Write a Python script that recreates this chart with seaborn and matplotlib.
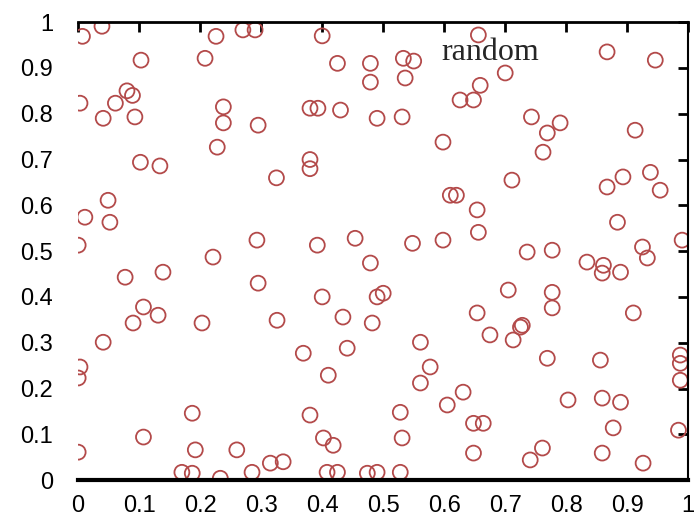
import matplotlib
matplotlib.use("Agg")
import matplotlib.pyplot as plt
import seaborn as sns
import pandas as pd

# ============================================================
# DATA
# ============================================================

x_vals = [
    0.007, 0.039, 0.103, 0.226, 0.208, 0.270, 0.290,
    0.400, 0.425, 0.479, 0.479, 0.533, 0.550, 0.536,
    0.867, 0.946, 0.656, 0.700, 0.659, 0.626, 0.648,
    0.598, 0.380, 0.393, 0.430, 0.490, 0.531, 0.380, 0.380,
    0.325, 0.003, 0.041, 0.061, 0.080, 0.089, 0.093,
    0.238, 0.238, 0.228, 0.295, 0.102, 0.134,
    0.049, 0.011, 0.052, 0.000, 0.293, 0.221, 0.077,
    0.139, 0.295, 0.107, 0.131, 0.090, 0.203, 0.326,
    0.610, 0.620, 0.654, 0.392, 0.454, 0.548, 0.598, 0.656,
    0.479, 0.400, 0.500, 0.490, 0.434, 0.482, 0.654,
    0.711, 0.867, 0.893, 0.938, 0.954, 0.884, 0.990,
    0.736, 0.777, 0.834, 0.861, 0.859, 0.889, 0.925, 0.933,
    0.705, 0.777, 0.777, 0.910, 0.728,
    0.041, 0.003, 0.000, 0.000, 0.107, 0.187, 0.192, 0.260,
    0.170, 0.187, 0.233, 0.285, 0.315, 0.336,
    0.369, 0.441, 0.410, 0.561, 0.577, 0.561, 0.605, 0.631,
    0.380, 0.528, 0.402, 0.418, 0.531, 0.648, 0.648, 0.664,
    0.408, 0.425, 0.474, 0.490, 0.528,
    0.713, 0.725, 0.675, 0.769, 0.856, 0.987, 0.987, 0.987,
    0.803, 0.859, 0.889, 0.877, 0.984, 0.859, 0.761, 0.741, 0.926,
    0.743, 0.790, 0.769, 0.762, 0.913,
]

y_vals = [
    0.969, 0.991, 0.917, 0.969, 0.921, 0.983, 0.983,
    0.970, 0.910, 0.910, 0.869, 0.921, 0.915, 0.878,
    0.935, 0.917, 0.972, 0.889, 0.862, 0.830, 0.830,
    0.738, 0.812, 0.812, 0.808, 0.790, 0.793, 0.700, 0.680,
    0.660, 0.823, 0.790, 0.823, 0.850, 0.840, 0.793,
    0.815, 0.780, 0.727, 0.775, 0.694, 0.686,
    0.611, 0.574, 0.563, 0.513, 0.524, 0.487, 0.443,
    0.454, 0.430, 0.378, 0.360, 0.343, 0.343, 0.349,
    0.622, 0.622, 0.590, 0.513, 0.528, 0.517, 0.524, 0.541,
    0.474, 0.400, 0.408, 0.400, 0.356, 0.343, 0.365,
    0.655, 0.640, 0.662, 0.672, 0.633, 0.563, 0.524,
    0.498, 0.502, 0.476, 0.469, 0.452, 0.454, 0.509, 0.485,
    0.415, 0.410, 0.376, 0.365, 0.338,
    0.301, 0.247, 0.223, 0.061, 0.094, 0.146, 0.066, 0.066,
    0.017, 0.015, 0.004, 0.017, 0.037, 0.040,
    0.277, 0.288, 0.229, 0.301, 0.247, 0.212, 0.164, 0.192,
    0.142, 0.148, 0.092, 0.076, 0.092, 0.059, 0.124, 0.124,
    0.017, 0.017, 0.015, 0.017, 0.017,
    0.306, 0.334, 0.317, 0.266, 0.262, 0.255, 0.218, 0.273,
    0.175, 0.179, 0.170, 0.114, 0.109, 0.059, 0.070, 0.044, 0.037,
    0.793, 0.780, 0.758, 0.716, 0.764,
]

x_ticks = [0, 0.1, 0.2, 0.3, 0.4, 0.5, 0.6, 0.7, 0.8, 0.9, 1]
y_ticks = [0, 0.1, 0.2, 0.3, 0.4, 0.5, 0.6, 0.7, 0.8, 0.9, 1]
tick_labels = ["0", "0.1", "0.2", "0.3", "0.4", "0.5", "0.6", "0.7", "0.8", "0.9", "1"]

df = pd.DataFrame({"x": x_vals, "y": y_vals})

# ============================================================
# PLOT
# ============================================================

sns.set_style("white")
plt.rcParams['font.family'] = ['Liberation Sans', 'DejaVu Sans']

fig = plt.figure(figsize=(6.98, 5.27), dpi=100)
ax = fig.add_axes([0.112, 0.089, 0.874, 0.869])

sns.scatterplot(data=df, x="x", y="y", ax=ax, marker="o", s=115,
                facecolors="none", edgecolor="#b34a4a", linewidth=1.3,
                label="random")

ax.set_xlim(0, 1)
ax.set_ylim(0, 1)
ax.set_xticks(x_ticks)
ax.set_yticks(y_ticks)
ax.set_xticklabels(tick_labels)
ax.set_yticklabels(tick_labels)
ax.set_xlabel("")
ax.set_ylabel("")

# gnuplot-like border: inward ticks, no left line
ax.tick_params(axis="both", direction="in", length=7, width=2, labelsize=17,
               top=True, right=True, colors="black")
ax.tick_params(axis="x", pad=11)
ax.tick_params(axis="y", pad=18)
ax.spines["left"].set_visible(False)
ax.spines["bottom"].set_linewidth(3)
ax.spines["top"].set_linewidth(2)
ax.spines["right"].set_linewidth(1.5)
for side in ["bottom", "top", "right"]:
    ax.spines[side].set_color("black")

# legend: only the text is visible in the reference
leg = ax.legend(loc="upper left", bbox_to_anchor=(0.575, 0.995), frameon=False,
                handlelength=0, handletextpad=0, borderaxespad=0,
                prop={"family": "Liberation Serif", "size": 23})
for h in leg.legend_handles:
    h.set_visible(False)

plt.savefig("out.png", dpi=100)
plt.close()
